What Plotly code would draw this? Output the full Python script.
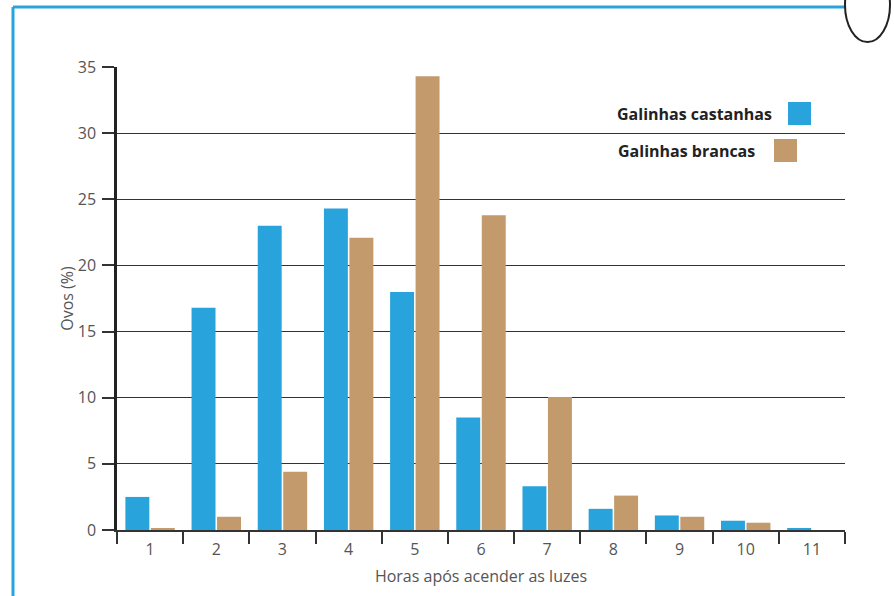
import plotly.graph_objects as go

horas = ["1", "2", "3", "4", "5", "6", "7", "8", "9", "10", "11"]
castanhas = [2.5, 16.8, 23.0, 24.3, 18.0, 8.5, 3.3, 1.6, 1.1, 0.7, 0.1]
brancas = [0.15, 1.0, 4.4, 22.1, 34.3, 23.8, 10.05, 2.6, 1.0, 0.55, 0.0]

AZUL = "#29a3dc"
CASTANHO = "#c29a6c"

L, R, T, B = 117, 845, 67, 530   # plot area in pixels
W, H = 894, 596


def px(x):
    return (x - L) / (R - L)


def py(y):
    return (B - y) / (B - T)


fig = go.Figure()
fig.add_trace(go.Bar(x=horas, y=castanhas, name="Galinhas castanhas",
                     marker=dict(color=AZUL, line=dict(width=0))))
fig.add_trace(go.Bar(x=horas, y=brancas, name="Galinhas brancas",
                     marker=dict(color=CASTANHO, line=dict(width=0))))

fig.update_layout(
    width=W, height=H,
    margin=dict(l=L, r=W - R, t=T, b=H - B),
    plot_bgcolor="white", paper_bgcolor="white",
    barmode="group", bargap=0.23, bargroupgap=0.06,
    showlegend=False,
    font=dict(family="Open Sans", color="#555", size=15),
)

fig.update_xaxes(
    type="category", range=[-0.5, 10.5],
    tickson="boundaries", ticks="outside", ticklen=12, tickwidth=1.5,
    tickcolor="#333", showline=True, linecolor="#333", linewidth=2,
    showgrid=False, tickfont=dict(size=16, color="#555"), ticklabelstandoff=4,
    title=dict(text="Horas após acender as luzes", font=dict(size=16, color="#555"),
               standoff=12),
)
fig.update_yaxes(
    range=[0, 35], dtick=5, ticks="outside", ticklen=12, tickwidth=1.5,
    tickcolor="#333", showgrid=True, gridcolor="#333", gridwidth=1.3,
    showline=True, linecolor="#222", linewidth=2.5, zeroline=False,
    tickfont=dict(size=16, color="#555"), ticklabelstandoff=3,
    title=dict(text="Ovos (%)", font=dict(size=16, color="#555"), standoff=1),
)

# legend drawn by hand: bold text with swatch on the right
leg = [("Galinhas castanhas", AZUL, 774, 788, 102), ("Galinhas brancas", CASTANHO, 757, 774, 139)]
for txt, cor, xt, xs, ys in leg:
    fig.add_annotation(xref="paper", yref="paper", x=px(xt), y=py(ys + 12),
                       text="<b>" + txt + "</b>", showarrow=False,
                       xanchor="right", yanchor="middle",
                       font=dict(size=16, color="#222"))
    fig.add_shape(type="rect", xref="paper", yref="paper",
                  x0=px(xs), x1=px(xs + 23), y0=py(ys + 23), y1=py(ys),
                  fillcolor=cor, line=dict(width=0))

# blue frame on left and top
fig.add_shape(type="line", xref="paper", yref="paper",
              x0=px(13), x1=px(13), y0=py(610), y1=py(7),
              line=dict(color=AZUL, width=3))
fig.add_shape(type="line", xref="paper", yref="paper",
              x0=px(13), x1=px(850), y0=py(7), y1=py(7),
              line=dict(color=AZUL, width=3))
# egg outline top right (cut off by the top edge)
fig.add_shape(type="circle", xref="paper", yref="paper",
              x0=px(845), x1=px(890), y0=py(42), y1=py(-32),
              fillcolor="white", line=dict(color="#222", width=2))

fig.write_html("out.html", config={"displayModeBar": False},
               post_script="document.body.style.margin='0';")
